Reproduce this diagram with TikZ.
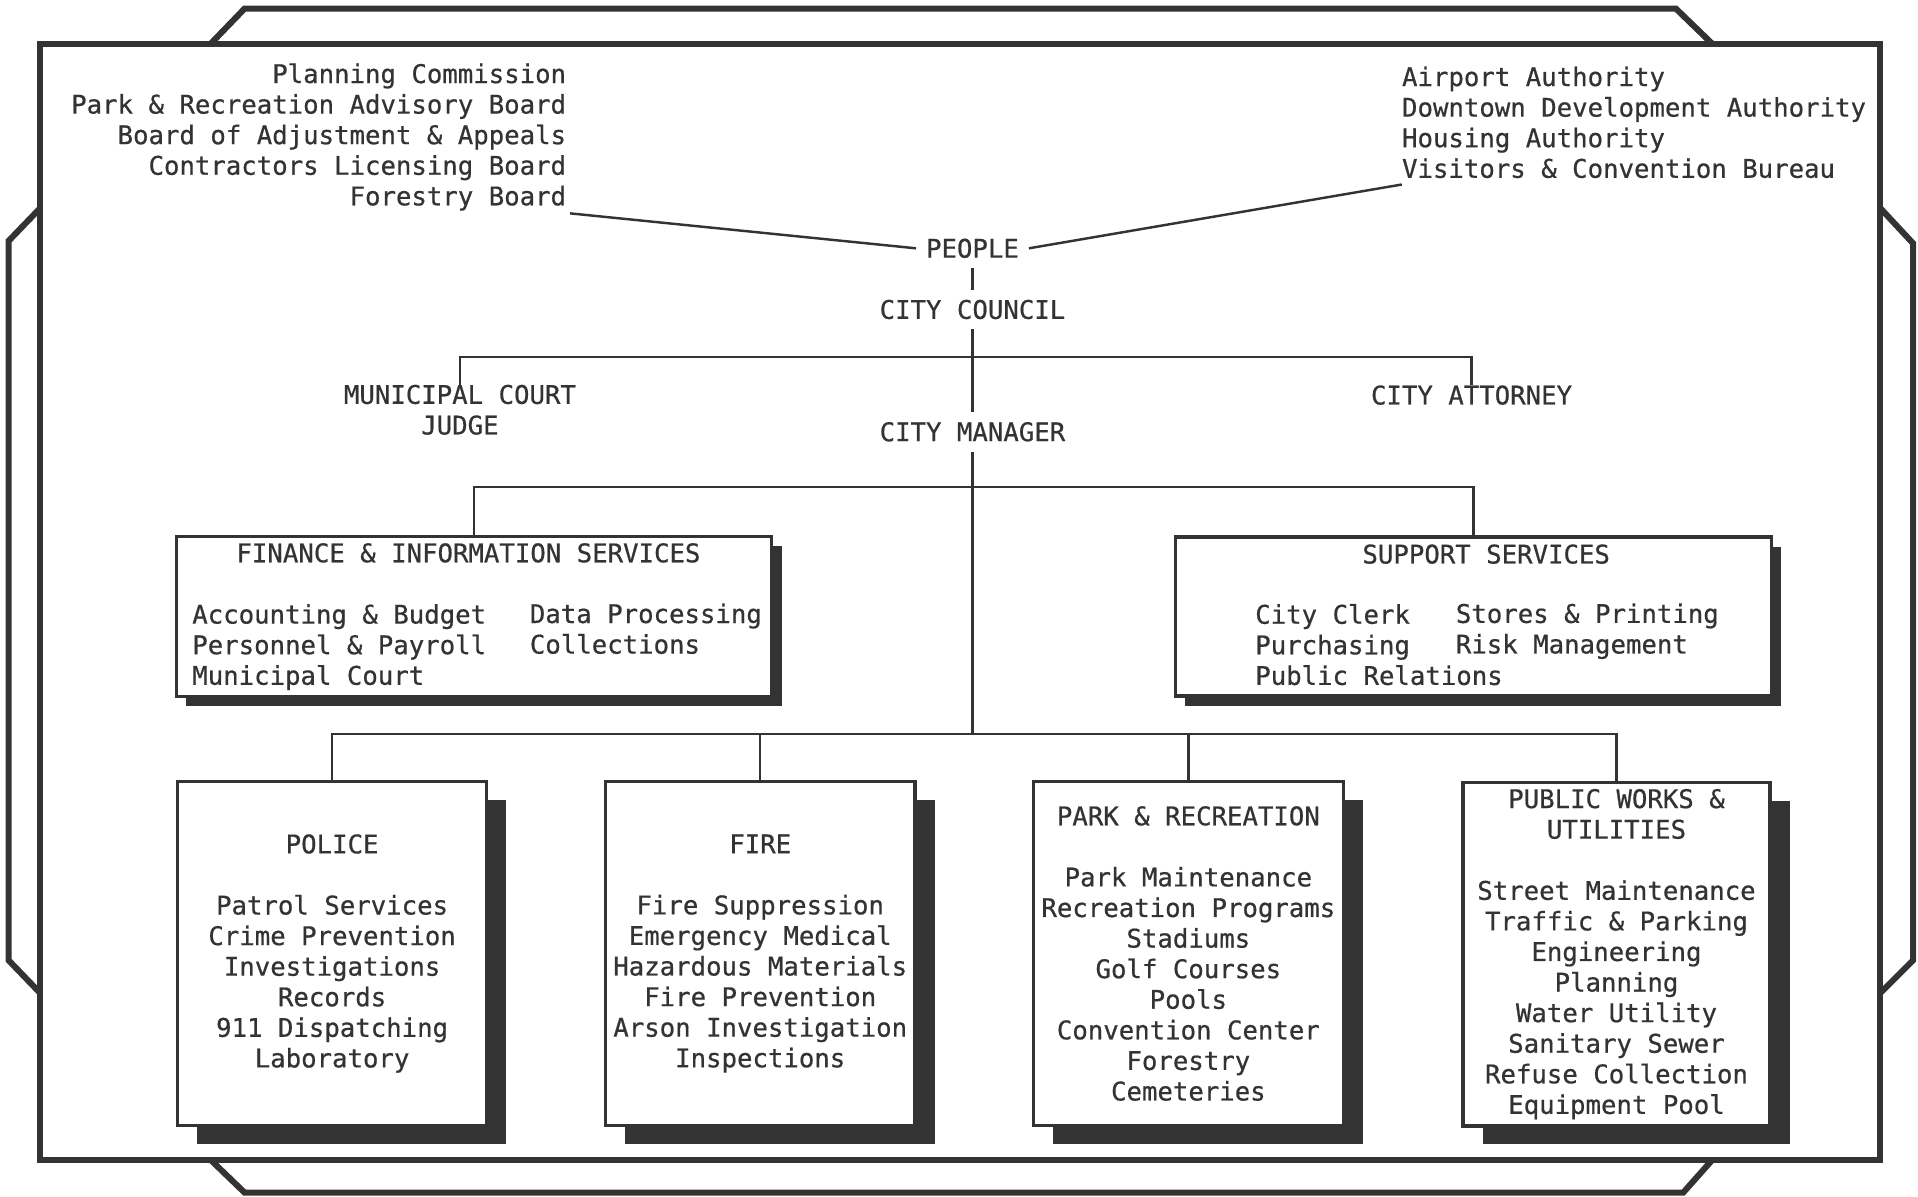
\documentclass[tikz,border=0pt]{standalone}
\usepackage{fontspec}
\newfontfamily\dmono{DejaVu Sans Mono}[FakeBold=0.6]
\usetikzlibrary{shadows,calc}
\definecolor{ink}{HTML}{333333}
\begin{document}
\begin{tikzpicture}[x=1pt,y=-1pt,
  txt/.style={font=\dmono\fontsize{21}{25}\selectfont, text=ink, inner sep=0pt},
  lbl/.style={txt, inner xsep=8pt, inner ysep=8pt},
  conn/.style={draw=ink, line width=2pt},
  frameline/.style={draw=ink, line width=5pt, line join=miter},
  midbox/.style={draw=ink, line width=2.5pt, fill=white, minimum width=487pt, minimum height=131pt,
    drop shadow={shadow xshift=8pt, shadow yshift=-8pt, opacity=1, fill=ink}},
  deptbox/.style={txt, align=center, draw=ink, line width=2.5pt, fill=white, minimum width=253pt, minimum height=281pt,
    drop shadow={shadow xshift=16pt, shadow yshift=-15pt, opacity=1, fill=ink}},
]
\useasboundingbox (0,0) rectangle (1568,978);
% frame
\draw[frameline] (33,36) rectangle (1537,948);
\draw[frameline] (172,36) -- (200,7) -- (1370,7) -- (1400,36);
\draw[frameline] (33,170) -- (7,197) -- (7,785) -- (33,812);
\draw[frameline] (1537,170) -- (1564,199) -- (1564,785) -- (1537,812);
\draw[frameline] (172,948) -- (200,975) -- (1376,975) -- (1400,948);

% top texts
\node[txt, align=right, anchor=east] (boards) at (463,112) {Planning Commission\\Park \& Recreation Advisory Board\\Board of Adjustment \& Appeals\\Contractors Licensing Board\\Forestry Board};
\node[txt, align=left, anchor=west] (agencies) at (1146,100) {Airport Authority\\Downtown Development Authority\\Housing Authority\\Visitors \& Convention Bureau};
\node[lbl] (people) at (795,203) {PEOPLE};
\node[lbl] (council) at (795,253) {CITY COUNCIL};
\node[txt, align=center] (court) at (376,335) {MUNICIPAL COURT\\JUDGE};
\node[txt] (attorney) at (1203,323) {CITY ATTORNEY};
\node[lbl] (manager) at (795,353) {CITY MANAGER};

% middle boxes
\node[midbox] (fin) at (387.5,504) {};
\node[txt] (fintitle) at (383,452) {FINANCE \& INFORMATION SERVICES};
\node[txt, align=left, anchor=west] (fincol1) at (157,529) {Accounting \& Budget\\Personnel \& Payroll\\Municipal Court};
\node[txt, align=left, anchor=west] (fincol2) at (433,514) {Data Processing\\Collections};

\node[midbox, minimum height=130pt] (sup) at (1204.5,504) {};
\node[txt] (suptitle) at (1215,453) {SUPPORT SERVICES};
\node[txt, align=left, anchor=west] (supcol1) at (1026,527) {City Clerk\\Purchasing\\Public Relations};
\node[txt, align=left, anchor=west] (supcol2) at (1190,516) {Stores \& Printing\\Risk Management};

% departments
\node[deptbox] (police) at (271.5,779.5) {POLICE\\[25pt]Patrol Services\\Crime Prevention\\Investigations\\Records\\911 Dispatching\\Laboratory};
\node[deptbox] (fire) at (621.5,779.5) {FIRE\\[25pt]Fire Suppression\\Emergency Medical\\Hazardous Materials\\Fire Prevention\\Arson Investigation\\Inspections};
\node[deptbox] (park) at (971.5,779.5) {PARK \& RECREATION\\[25pt]Park Maintenance\\Recreation Programs\\Stadiums\\Golf Courses\\Pools\\Convention Center\\Forestry\\Cemeteries};
\node[deptbox, minimum width=251pt] (pw) at (1321.5,780) {PUBLIC WORKS \&\\UTILITIES\\[25pt]Street Maintenance\\Traffic \& Parking\\Engineering\\Planning\\Water Utility\\Sanitary Sewer\\Refuse Collection\\Equipment Pool};

% connectors
\coordinate (j1) at (795,292);
\coordinate (j2) at (795,398);
\coordinate (j3) at (795,600);
\draw[conn] ($(boards.south east)+(3,2)$) -- (people.west);
\draw[conn] (people.east) -- ($(agencies.south west)+(0,5)$);
\draw[conn] (people.south) -- (council.north);
\draw[conn] (council.south) -- (manager.north);
\draw[conn] (court.north) |- (j1) -| (attorney.north);
\draw[conn] (manager.south) -- (j3);
\draw[conn] (fin.north) |- (j2) -| (sup.north);
\draw[conn] (police.north) |- (j3) -| (pw.north);
\draw[conn] (fire.north) |- (j3);
\draw[conn] (park.north) |- (j3);
\end{tikzpicture}
\end{document}
